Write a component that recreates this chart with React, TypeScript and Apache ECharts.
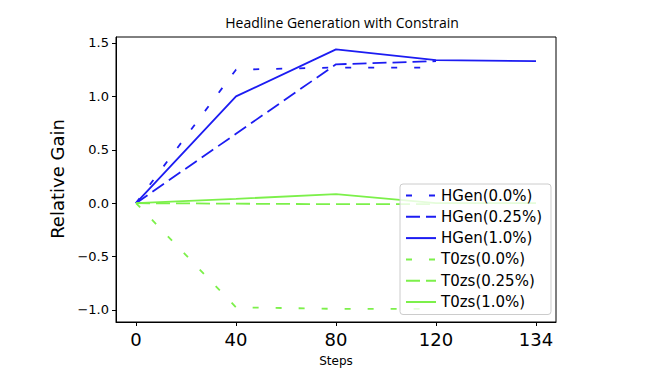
import React, { useEffect, useRef } from "react";
import * as echarts from "echarts";

const stepLabels = ["0", "40", "80", "120", "134"];
const yTicks = [-1.0, -0.5, 0.0, 0.5, 1.0, 1.5];

const hgen00 = [0, 1.25, 1.27, 1.27];
const hgen025 = [0, 0.65, 1.3, 1.33];
const hgen10 = [0, 1.0, 1.44, 1.34, 1.33];
const t0zs00 = [0, -0.975, -0.99, -0.99];
const t0zs025 = [0, -0.005, -0.01, -0.01];
const t0zs10 = [0, 0.04, 0.085, 0.0, 0.0];

const seriesNames = [
  "HGen(0.0%)",
  "HGen(0.25%)",
  "HGen(1.0%)",
  "T0zs(0.0%)",
  "T0zs(0.25%)",
  "T0zs(1.0%)",
];

const BLUE = "#1c1cf2";
const GREEN = "#7cf04a";
const DOT = [6, 17];
const DASH = [14, 6];

export default function App() {
  const ref = useRef<HTMLDivElement>(null);
  useEffect(() => {
    if (!ref.current) return;
    const chart = echarts.init(ref.current, undefined, { renderer: "svg" });
    const toPairs = (arr: number[]) => arr.map((v, i) => [i, v]);
    const mk = (name: string, data: number[], color: string, type: any) => ({
      name,
      type: "line",
      data: toPairs(data),
      symbol: "none",
      lineStyle: { color, width: 1.8, type },
      itemStyle: { color },
      z: 2,
    });
    chart.setOption({
      animation: false,
      backgroundColor: "#fff",
      grid: {
        left: 116,
        right: 102,
        top: 37,
        bottom: 48,
        show: true,
        borderColor: "#000",
        borderWidth: 1,
        backgroundColor: "transparent",
      },
      title: {
        text: "Headline Generation with Constrain",
        left: 337,
        textAlign: "center",
        top: 10,
        textStyle: {
          fontFamily: "Open Sans",
          fontSize: 14,
          fontWeight: "normal",
          color: "#000",
        },
      },
      xAxis: {
        type: "value",
        min: -0.2,
        max: 4.2,
        splitLine: { show: false },
        axisLine: { show: true, onZero: false, lineStyle: { color: "#000", width: 1 } },
        axisTick: {
          show: true,
          inside: false,
          length: 4,
          customValues: [0, 1, 2, 3, 4],
          lineStyle: { color: "#000" },
        },
        axisLabel: {
          customValues: [0, 1, 2, 3, 4],
          formatter: (v: number) => stepLabels[Math.round(v)] ?? "",
          fontFamily: "DejaVu Sans",
          fontSize: 18,
          color: "#000",
          margin: 8,
        },
      },
      yAxis: {
        type: "value",
        min: -1.113,
        max: 1.556,
        splitLine: { show: false },
        axisLine: { show: true, onZero: false, lineStyle: { color: "#000", width: 1 } },
        axisTick: {
          show: true,
          inside: false,
          length: 4,
          customValues: yTicks,
          lineStyle: { color: "#000" },
        },
        axisLabel: {
          customValues: yTicks,
          formatter: (v: number) =>
            v < 0 ? "\u2212" + Math.abs(v).toFixed(1) : v.toFixed(1),
          fontFamily: "DejaVu Sans",
          fontSize: 13,
          color: "#000",
          margin: 7,
        },
      },
      graphic: [
        {
          type: "text",
          x: 57,
          y: 179,
          rotation: Math.PI / 2,
          style: {
            text: "Relative Gain",
            fontFamily: "DejaVu Sans",
            fontSize: 18,
            fill: "#000",
            align: "center",
            verticalAlign: "middle",
          },
        },
        {
          type: "text",
          x: 336,
          y: 361,
          style: {
            text: "Steps",
            fontFamily: "DejaVu Sans",
            fontSize: 12,
            fill: "#000",
            align: "center",
            verticalAlign: "middle",
          },
        },
      ],
      legend: {
        orient: "vertical",
        left: 400,
        top: 184,
        padding: [4, 9, 5, 5],
        itemWidth: 30,
        itemHeight: 14,
        itemGap: 6.3,
        backgroundColor: "rgba(255,255,255,0.8)",
        borderColor: "#cccccc",
        borderWidth: 1,
        borderRadius: 3,
        itemStyle: { opacity: 0 },
        data: seriesNames,
        textStyle: { fontFamily: "DejaVu Sans", fontSize: 15, color: "#000" },
      },
      series: [
        mk(seriesNames[0], hgen00, BLUE, DOT),
        mk(seriesNames[1], hgen025, BLUE, DASH),
        mk(seriesNames[2], hgen10, BLUE, "solid"),
        mk(seriesNames[3], t0zs00, GREEN, DOT),
        mk(seriesNames[4], t0zs025, GREEN, DASH),
        mk(seriesNames[5], t0zs10, GREEN, "solid"),
      ],
    });
    return () => chart.dispose();
  }, []);
  return (
    <div
      ref={ref}
      style={{ position: "absolute", left: 0, top: 0, width: 658, height: 370 }}
    />
  );
}
